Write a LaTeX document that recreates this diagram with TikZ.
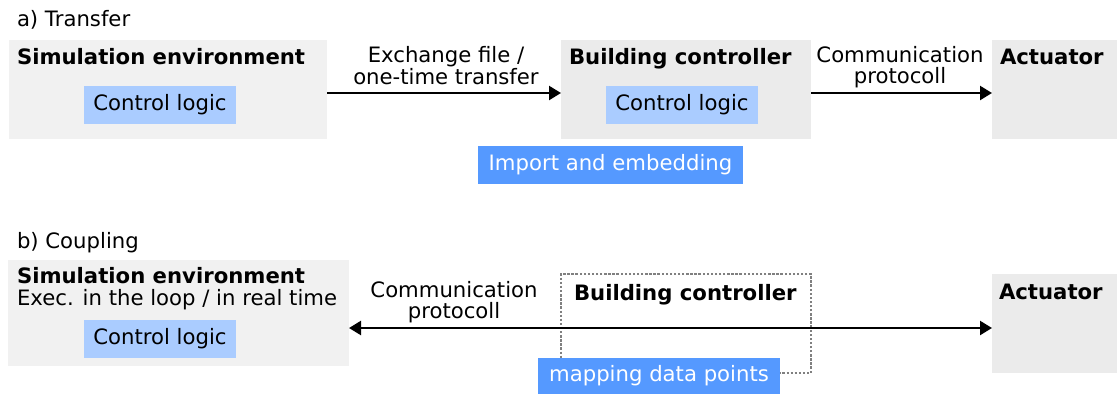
\documentclass[tikz,border=0pt]{standalone}
\usepackage{fontspec}
\setmainfont{DejaVu Sans}
\usetikzlibrary{arrows.meta}
\definecolor{simbg}{HTML}{F1F1F1}
\definecolor{devbg}{HTML}{EBEBEB}
\definecolor{logicbg}{HTML}{AACCFF}
\definecolor{accent}{HTML}{5599FF}
\definecolor{dotgray}{HTML}{808080}
\tikzset{
  every node/.style={font=\fontsize{21.2}{20.5}\selectfont, inner sep=0pt, outer sep=0pt},
  panel/.style={anchor=north west, draw=none},
  heading/.style={anchor=base west, font=\fontsize{21.2}{22}\selectfont\bfseries},
  plain/.style={anchor=base west},
  logicbox/.style={fill=logicbg, minimum width=152pt, minimum height=38pt},
  accentbox/.style={fill=accent, text=white},
  linklabel/.style={anchor=base, align=center},
  link/.style={line width=2.3pt, -{Triangle[length=12pt, width=14pt]}},
  biglink/.style={line width=2.3pt, {Triangle[length=12pt, width=14pt]}-{Triangle[length=12pt, width=14pt]}},
  dotframe/.style={draw=dotgray, line width=2.6pt, dash pattern=on 2.4pt off 1.7pt}
}
\begin{document}
\begin{tikzpicture}[x=1pt, y=-1pt]
\useasboundingbox (0,0) rectangle (1117,394);

% ---------- a) Transfer ----------
\node[plain] (capA) at (17,26) {a) Transfer};

\node[panel, fill=simbg, minimum width=318pt, minimum height=99pt] (simA) at (9,40) {};
\node[heading] (simAt) at (17,64) {Simulation environment};
\node[logicbox] (logA) at (160,105) {Control logic};

\node[panel, fill=devbg, minimum width=250pt, minimum height=99pt] (bcA) at (561,40) {};
\node[heading] (bcAt) at (569,64) {Building controller};
\node[logicbox] (logA2) at (682,105) {Control logic};

\node[panel, fill=devbg, minimum width=125pt, minimum height=99pt] (actA) at (992,40) {};
\node[heading] (actAt) at (1000,64) {Actuator};

\node[accentbox, minimum width=265pt, minimum height=38pt] (impA) at (610.5,165) {Import and embedding};

% the base anchor of a two-line label sits on its second line
\draw[link] ([yshift=-3.5pt]simA.east) -- ([yshift=-3.5pt]bcA.west);
\node[linklabel] (lblA1) at (446,84) {Exchange file /\\one-time transfer};
\draw[link] ([yshift=-3.5pt]bcA.east) -- ([yshift=-3.5pt]actA.west);
\node[linklabel] (lblA2) at (900,83) {Communication\\protocoll};

% ---------- b) Coupling ----------
\node[plain] (capB) at (17,248) {b) Coupling};

\node[panel, fill=simbg, minimum width=341pt, minimum height=106pt] (simB) at (8,260) {};
\node[heading] (simBt) at (17,283) {Simulation environment};
\node[plain] (simBs) at (17,305) {Exec. in the loop / in real time};
\node[logicbox] (logB) at (160,339) {Control logic};

\node[panel, dotframe, minimum width=250pt, minimum height=99pt] (bcB) at (561,274) {};
\node[heading] (bcBt) at (574,300) {Building controller};

\node[panel, fill=devbg, minimum width=125pt, minimum height=99pt] (actB) at (992,274) {};
\node[heading] (actBt) at (999,299) {Actuator};

\draw[biglink] ([yshift=-15pt]simB.east) -- ([yshift=-4.5pt]actB.west);
\node[linklabel] (lblB) at (454,318) {Communication\\protocoll};

\node[accentbox, minimum width=242pt, minimum height=36pt] (mapB) at (659,376) {mapping data points};
\end{tikzpicture}
\end{document}
